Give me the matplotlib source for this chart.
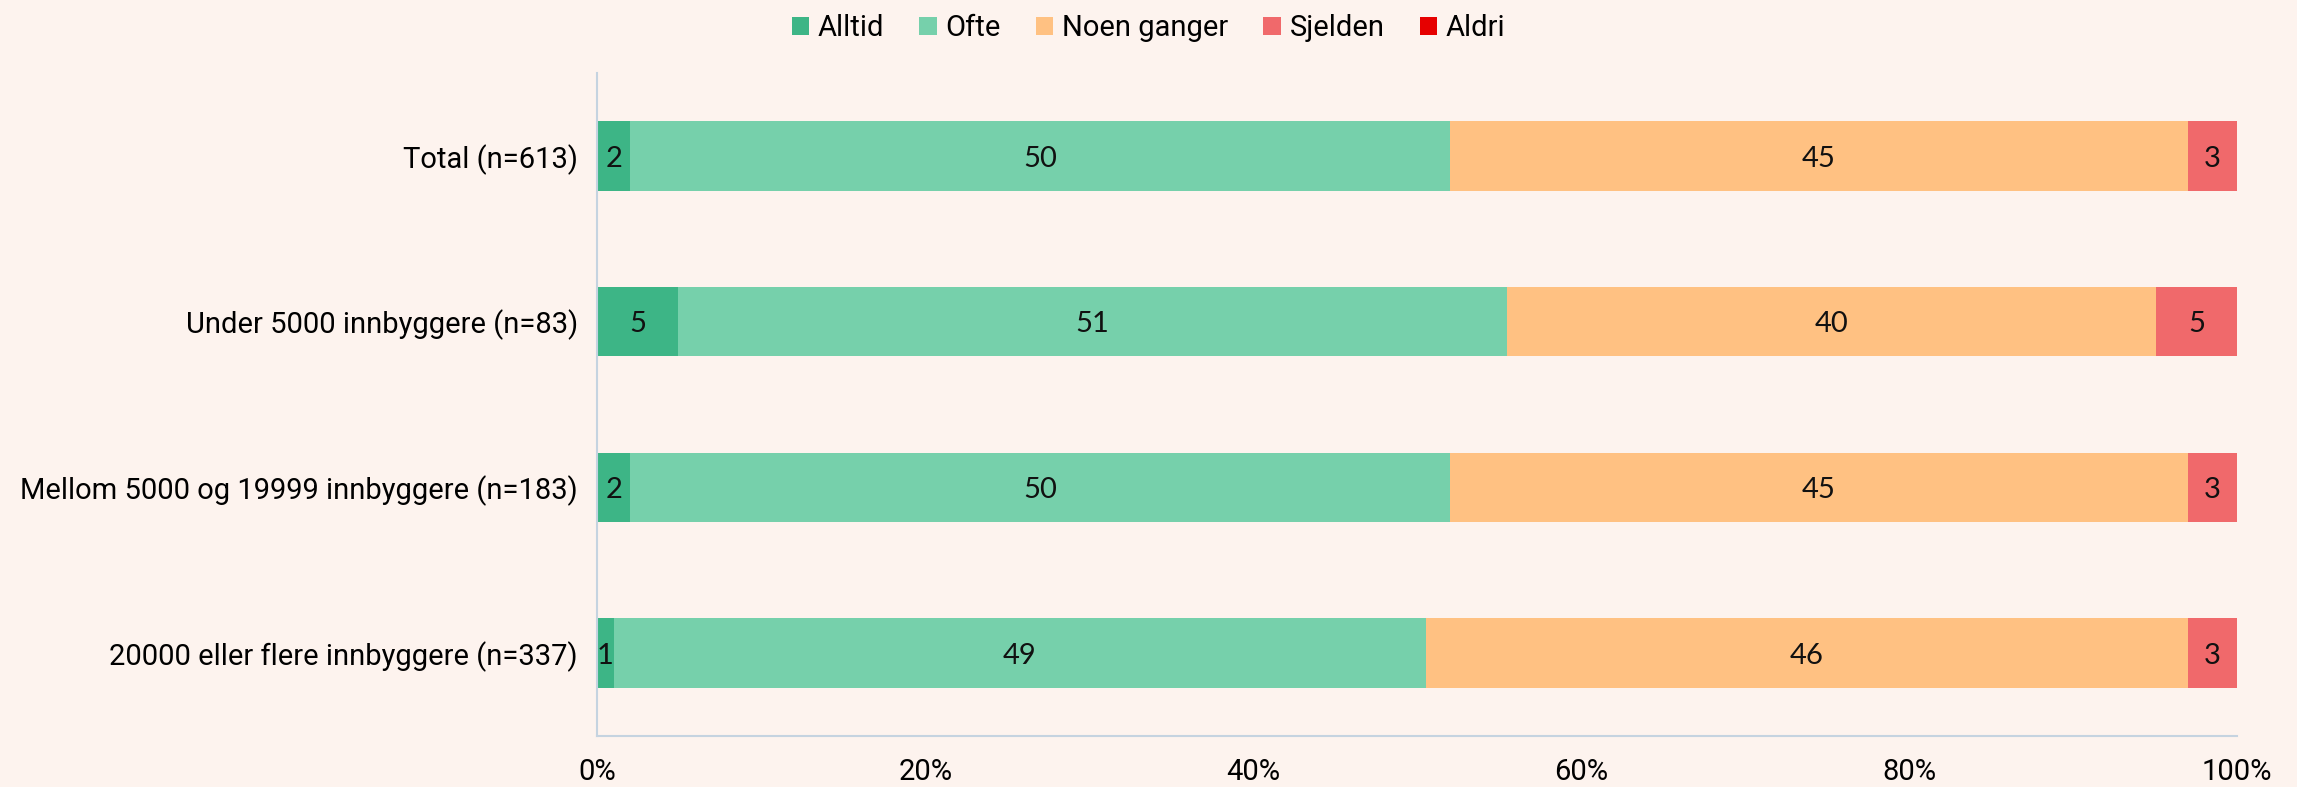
import numpy as np
import matplotlib
matplotlib.use("Agg")
import matplotlib.pyplot as plt

plt.rcParams['font.family'] = ['Roboto', 'DejaVu Sans']

# data
groups = ["Total (n=613)", "Under 5000 innbyggere (n=83)",
          "Mellom 5000 og 19999 innbyggere (n=183)",
          "20000 eller flere innbyggere (n=337)"]
series = ["Alltid", "Ofte", "Noen ganger", "Sjelden", "Aldri"]
alltid = [2, 5, 2, 1]
ofte = [50, 51, 50, 49]
noen = [45, 40, 45, 46]
sjelden = [3, 5, 3, 3]
aldri = [0, 0, 0, 0]
colors = ["#3db586", "#76d0ab", "#ffc182", "#f0696b", "#e60000"]

bg = "#fdf3ee"
fig = plt.figure(figsize=(22.97, 7.87), dpi=100, facecolor=bg)
ax = fig.add_axes([0.260, 0.065, 0.714, 0.842], facecolor=bg)

vals = np.array([alltid, ofte, noen, sjelden, aldri], dtype=float)
pct = vals / vals.sum(axis=0) * 100
y = np.arange(len(groups))
left = np.zeros(len(groups))
for i, name in enumerate(series):
    bars = ax.barh(y, pct[i], left=left, height=0.42, color=colors[i],
                   label=name, edgecolor="none")
    for j, b in enumerate(bars):
        if vals[i, j] > 0:
            ax.text(left[j] + pct[i, j] / 2, y[j], f"{int(vals[i, j])}",
                    ha="center", va="center_baseline", fontsize=21,
                    color="#111111", family=['Lato', 'DejaVu Sans'])
    left += pct[i]

ax.set_ylim(3.5, -0.5)
ax.set_xlim(0, 100)
ax.set_yticks(y)
ax.set_yticklabels(groups, fontsize=21)
ax.set_xticks([0, 20, 40, 60, 80, 100])
ax.set_xticklabels([f"{v}%" for v in [0, 20, 40, 60, 80, 100]], fontsize=21)
ax.tick_params(axis="y", length=0, pad=14)
ax.tick_params(axis="x", length=0, pad=16)
for s in ["top", "right"]:
    ax.spines[s].set_visible(False)
for s in ["left", "bottom"]:
    ax.spines[s].set_color("#c5d3e0")
    ax.spines[s].set_linewidth(1.5)

fig.legend(loc="upper center", bbox_to_anchor=(0.5, 1.015), ncol=5,
           frameon=False, fontsize=21, handlelength=0.6, handleheight=0.6,
           handletextpad=0.3, columnspacing=1.2)

fig.savefig("out.png", dpi=100, facecolor=bg)
